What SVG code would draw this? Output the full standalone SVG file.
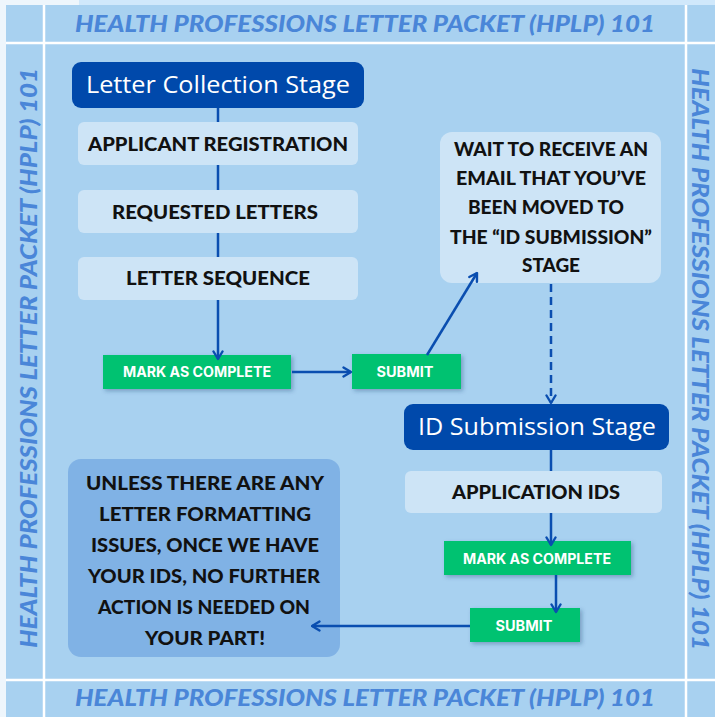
<svg xmlns="http://www.w3.org/2000/svg" width="715" height="717" viewBox="0 0 715 717">
<defs>
<style>
.frame{font-family:"Lato","Liberation Sans",sans-serif;font-weight:900;font-style:italic;font-size:22px;fill:#4a86d8;}
.stage{fill:#0049ab;}
.stagetxt{font-family:"Open Sans","Liberation Sans",sans-serif;font-size:23px;fill:#ffffff;text-anchor:middle;}
.box{fill:#cde4f6;}
.boxtxt{font-family:"Lato","Liberation Sans",sans-serif;font-weight:900;font-size:18px;fill:#111111;text-anchor:middle;}
.btn{fill:#00c271;filter:url(#sh);}
.btntxt{font-family:"Inter","Liberation Sans",sans-serif;font-weight:700;font-size:14px;fill:#ffffff;text-anchor:middle;}
.conn{stroke:#0a4eb0;stroke-width:2.5;fill:none;}
.border{stroke:#ffffff;stroke-width:2.5;}
</style>
<filter id="sh" x="-20%" y="-30%" width="140%" height="170%">
<feDropShadow dx="2" dy="2" stdDeviation="2" flood-color="#1a3a6a" flood-opacity="0.35"/>
</filter>
<marker id="ah" viewBox="0 0 12 12" refX="10.5" refY="6" markerWidth="12" markerHeight="12" orient="auto" markerUnits="userSpaceOnUse">
<path d="M3,1.5 L10.5,6 L3,10.5" fill="none" stroke="#0a4eb0" stroke-width="2.4" stroke-linecap="round" stroke-linejoin="round"/>
</marker>
</defs>
<g id="background">
<rect x="0" y="0" width="715" height="717" fill="#eef6fc"/>
<rect x="79" y="0" width="636" height="6" fill="#d0e8fb"/>
<rect x="6" y="5" width="709" height="712" fill="#a8d1f0"/>
<line class="border" x1="6" y1="43" x2="715" y2="43"/>
<line class="border" x1="6" y1="680" x2="715" y2="680"/>
<line class="border" x1="44" y1="5" x2="44" y2="717"/>
<line class="border" x1="686" y1="5" x2="686" y2="717"/>
</g>
<g id="frame-text">
<text class="frame" x="75" y="32" textLength="580" lengthAdjust="spacingAndGlyphs">HEALTH PROFESSIONS LETTER PACKET (HPLP) 101</text>
<text class="frame" x="75" y="706" textLength="580" lengthAdjust="spacingAndGlyphs">HEALTH PROFESSIONS LETTER PACKET (HPLP) 101</text>
<text class="frame" transform="translate(37,648) rotate(-90)" textLength="580" lengthAdjust="spacingAndGlyphs">HEALTH PROFESSIONS LETTER PACKET (HPLP) 101</text>
<text class="frame" transform="translate(692,68) rotate(90)" textLength="582" lengthAdjust="spacingAndGlyphs">HEALTH PROFESSIONS LETTER PACKET (HPLP) 101</text>
</g>
<g id="letter-collection-stage">
<rect class="stage" x="72" y="62" width="292" height="46" rx="9"/>
<text class="stagetxt" x="218" y="93" textLength="264" lengthAdjust="spacingAndGlyphs">Letter Collection Stage</text>
</g>
<g id="applicant-registration">
<rect class="box" x="78" y="122" width="280" height="43" rx="6"/>
<text class="boxtxt" x="218" y="151" textLength="260" lengthAdjust="spacingAndGlyphs">APPLICANT REGISTRATION</text>
</g>
<g id="requested-letters">
<rect class="box" x="78" y="190" width="280" height="43" rx="6"/>
<text class="boxtxt" x="215" y="219" textLength="206" lengthAdjust="spacingAndGlyphs">REQUESTED LETTERS</text>
</g>
<g id="letter-sequence">
<rect class="box" x="78" y="257" width="280" height="43" rx="6"/>
<text class="boxtxt" x="218" y="285" textLength="184" lengthAdjust="spacingAndGlyphs">LETTER SEQUENCE</text>
</g>
<g id="mark-complete-1">
<rect class="btn" x="103" y="355" width="188" height="34"/>
<text class="btntxt" x="197" y="377" textLength="148" lengthAdjust="spacingAndGlyphs">MARK AS COMPLETE</text>
</g>
<g id="submit-1">
<rect class="btn" x="352" y="354" width="109" height="35"/>
<text class="btntxt" x="405" y="377" textLength="57" lengthAdjust="spacingAndGlyphs">SUBMIT</text>
</g>
<g id="wait-email">
<rect class="box" x="440" y="132" width="221" height="151" rx="12"/>
<text class="boxtxt" x="551" y="156" textLength="194" lengthAdjust="spacingAndGlyphs">WAIT TO RECEIVE AN</text>
<text class="boxtxt" x="551" y="185" textLength="190" lengthAdjust="spacingAndGlyphs">EMAIL THAT YOU’VE</text>
<text class="boxtxt" x="546" y="214" textLength="156" lengthAdjust="spacingAndGlyphs">BEEN MOVED TO</text>
<text class="boxtxt" x="551" y="244" textLength="202" lengthAdjust="spacingAndGlyphs">THE “ID SUBMISSION”</text>
<text class="boxtxt" x="551" y="272" textLength="58" lengthAdjust="spacingAndGlyphs">STAGE</text>
</g>
<g id="id-submission-stage">
<rect class="stage" x="404" y="404" width="265" height="46" rx="9"/>
<text class="stagetxt" x="537" y="435" textLength="238" lengthAdjust="spacingAndGlyphs">ID Submission Stage</text>
</g>
<g id="application-ids">
<rect class="box" x="405" y="471" width="257" height="42" rx="6"/>
<text class="boxtxt" x="536" y="499" textLength="168" lengthAdjust="spacingAndGlyphs">APPLICATION IDS</text>
</g>
<g id="mark-complete-2">
<rect class="btn" x="444" y="541" width="187" height="34"/>
<text class="btntxt" x="537" y="564" textLength="148" lengthAdjust="spacingAndGlyphs">MARK AS COMPLETE</text>
</g>
<g id="submit-2">
<rect class="btn" x="470" y="608" width="110" height="34"/>
<text class="btntxt" x="524" y="631" textLength="57" lengthAdjust="spacingAndGlyphs">SUBMIT</text>
</g>
<g id="final-note">
<rect x="68" y="459" width="272" height="198" rx="13" fill="#80b2e5"/>
<text class="boxtxt" x="205" y="490" textLength="238" lengthAdjust="spacingAndGlyphs">UNLESS THERE ARE ANY</text>
<text class="boxtxt" x="205" y="521" textLength="212" lengthAdjust="spacingAndGlyphs">LETTER FORMATTING</text>
<text class="boxtxt" x="205" y="552" textLength="228" lengthAdjust="spacingAndGlyphs">ISSUES, ONCE WE HAVE</text>
<text class="boxtxt" x="204" y="583" textLength="232" lengthAdjust="spacingAndGlyphs">YOUR IDS, NO FURTHER</text>
<text class="boxtxt" x="204" y="614" textLength="212" lengthAdjust="spacingAndGlyphs">ACTION IS NEEDED ON</text>
<text class="boxtxt" x="205" y="645" textLength="120" lengthAdjust="spacingAndGlyphs">YOUR PART!</text>
</g>
<g id="connectors">
<line class="conn" x1="218" y1="108" x2="218" y2="122"/>
<line class="conn" x1="218" y1="165" x2="218" y2="190"/>
<line class="conn" x1="218" y1="233" x2="218" y2="257"/>
<line class="conn" x1="218" y1="300" x2="218" y2="359" marker-end="url(#ah)"/>
<line class="conn" x1="292" y1="372" x2="351" y2="372" marker-end="url(#ah)"/>
<line class="conn" x1="427" y1="355" x2="477" y2="273" marker-end="url(#ah)"/>
<line class="conn" x1="551" y1="284" x2="551" y2="403" stroke-dasharray="8,5" marker-end="url(#ah)"/>
<line class="conn" x1="551" y1="450" x2="551" y2="471"/>
<line class="conn" x1="551" y1="513" x2="551" y2="545" marker-end="url(#ah)"/>
<line class="conn" x1="556" y1="575" x2="556" y2="612" marker-end="url(#ah)"/>
<line class="conn" x1="470" y1="626" x2="312" y2="626" marker-end="url(#ah)"/>
</g>
</svg>
